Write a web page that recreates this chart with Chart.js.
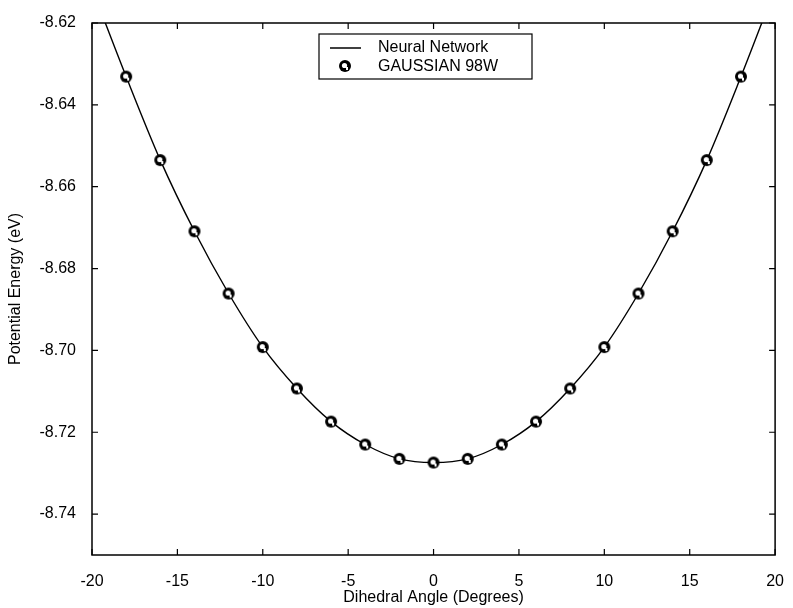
<!DOCTYPE html>
<html>
<head>
<meta charset="utf-8">
<script src="https://cdn.jsdelivr.net/npm/chart.js@4.4.1/dist/chart.umd.min.js"></script>
<style>
  html, body { margin: 0; padding: 0; background: #fff; }
  #wrap { width: 793px; height: 608px; }
</style>
</head>
<body>
<div id="wrap"><canvas id="energyChart" width="793" height="608"></canvas></div>
<script>
// datos
const angles = [-18, -16, -14, -12, -10, -8, -6, -4, -2, 0, 2, 4, 6, 8, 10, 12, 14, 16, 18];
const gaussianEnergy = [-8.6331, -8.6535, -8.6709, -8.6861, -8.6992, -8.7093, -8.7174, -8.7230, -8.7265, -8.7274,
                        -8.7265, -8.7230, -8.7174, -8.7093, -8.6992, -8.6861, -8.6709, -8.6535, -8.6331];
const nnAngles = [-20, -18, -16, -14, -12, -10, -8, -6, -4, -2, 0, 2, 4, 6, 8, 10, 12, 14, 16, 18, 20];
const nnEnergy = [-8.6115, -8.6331, -8.6535, -8.6709, -8.6861, -8.6992, -8.7093, -8.7174, -8.7230, -8.7265, -8.7274,
                  -8.7265, -8.7230, -8.7174, -8.7093, -8.6992, -8.6861, -8.6709, -8.6535, -8.6331, -8.6115];
const xTicks = [-20, -15, -10, -5, 0, 5, 10, 15, 20];
const yTicks = [-8.74, -8.72, -8.70, -8.68, -8.66, -8.64, -8.62];

const FONT = 'Liberation Sans, Arial, sans-serif';

// marcador tipo "circulo escaneado"
const makeMarker = () => {
    const c = document.createElement('canvas');
    c.width = 14; c.height = 14;
    const g = c.getContext('2d');
    g.fillStyle = '#000';
    g.beginPath(); g.arc(7, 7, 6, 0, Math.PI * 2); g.fill();
    g.fillStyle = '#fff';
    g.beginPath(); g.arc(6.5, 6.5, 2.6, 0, Math.PI * 2); g.fill();
    g.fillRect(8, 8, 2, 3);
    return c;
};
const marker = makeMarker();

// caja, ticks hacia adentro y leyenda al estilo MATLAB
const matlabBox = {
    id: 'matlabBox',
    afterDraw(chart) {
        const { ctx, chartArea: a, scales } = chart;
        ctx.save();
        ctx.strokeStyle = '#000';
        ctx.lineWidth = 1.5;
        ctx.strokeRect(a.left, a.top, a.right - a.left, a.bottom - a.top);
        ctx.lineWidth = 1.2;
        const len = 6;
        xTicks.forEach(v => {
            const px = scales.x.getPixelForValue(v);
            ctx.beginPath();
            ctx.moveTo(px, a.bottom); ctx.lineTo(px, a.bottom - len);
            ctx.moveTo(px, a.top); ctx.lineTo(px, a.top + len);
            ctx.stroke();
        });
        yTicks.forEach(v => {
            const py = scales.y.getPixelForValue(v);
            ctx.beginPath();
            ctx.moveTo(a.left, py); ctx.lineTo(a.left + len, py);
            ctx.moveTo(a.right, py); ctx.lineTo(a.right - len, py);
            ctx.stroke();
        });

        // leyenda
        const lx = 319, ly = 34, lw = 213, lh = 45;
        ctx.fillStyle = '#fff';
        ctx.fillRect(lx, ly, lw, lh);
        ctx.lineWidth = 1.2;
        ctx.strokeRect(lx, ly, lw, lh);
        ctx.lineWidth = 1.5;
        ctx.beginPath();
        ctx.moveTo(330, 48); ctx.lineTo(361, 48);
        ctx.stroke();
        ctx.drawImage(marker, 345 - 7, 66 - 7);
        ctx.fillStyle = '#000';
        ctx.font = '16px ' + FONT;
        ctx.textBaseline = 'middle';
        ctx.fillText('Neural Network', 378, 48);
        ctx.fillText('GAUSSIAN 98W', 378, 67);
        ctx.restore();
    }
};

const ctx = document.getElementById('energyChart').getContext('2d');
new Chart(ctx, {
    type: 'scatter',
    data: {
        datasets: [
            {
                label: 'Neural Network',
                data: nnAngles.map((a, i) => ({ x: a, y: nnEnergy[i] })),
                showLine: true,
                borderColor: '#000',
                borderWidth: 1.4,
                pointRadius: 0,
                cubicInterpolationMode: 'monotone',
                order: 2,
            },
            {
                label: 'GAUSSIAN 98W',
                data: angles.map((a, i) => ({ x: a, y: gaussianEnergy[i] })),
                pointStyle: marker,
                pointRadius: 7,
                order: 1,
            }
        ],
    },
    options: {
        responsive: false,
        animation: false,
        layout: { padding: { top: 23, right: 12, left: 0, bottom: 0 } },
        plugins: {
            legend: { display: false },
            tooltip: { enabled: false },
        },
        scales: {
            x: {
                type: 'linear',
                min: -20,
                max: 20,
                afterBuildTicks: (s) => { s.ticks = xTicks.map(v => ({ value: v })); },
                afterFit: (s) => { s.height = 53; },
                grid: { display: false },
                border: { display: false },
                ticks: {
                    color: '#000',
                    padding: 9,
                    maxRotation: 0,
                    font: { family: FONT, size: 16 },
                },
                title: {
                    display: true,
                    text: 'Dihedral Angle (Degrees)',
                    color: '#000',
                    padding: { top: 0, bottom: 1 },
                    font: { family: FONT, size: 16 },
                },
            },
            y: {
                type: 'linear',
                min: -8.75,
                max: -8.62,
                afterBuildTicks: (s) => { s.ticks = yTicks.map(v => ({ value: v })); },
                afterFit: (s) => { s.width = 92; },
                grid: { display: false },
                border: { display: false },
                ticks: {
                    color: '#000',
                    padding: 8,
                    font: { family: FONT, size: 16 },
                    callback: (v) => v.toFixed(2),
                },
                title: {
                    display: true,
                    text: 'Potential Energy (eV)',
                    color: '#000',
                    padding: { top: 6, bottom: 0 },
                    font: { family: FONT, size: 16 },
                },
            },
        },
    },
    plugins: [matlabBox],
});
</script>
</body>
</html>
